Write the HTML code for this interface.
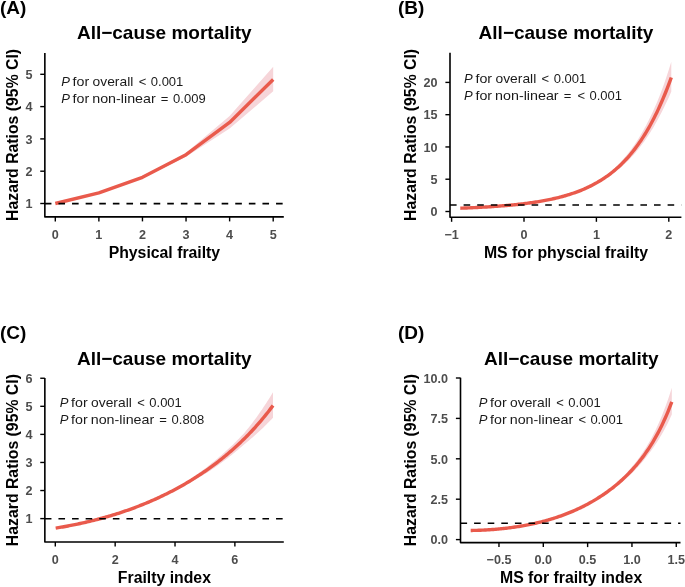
<!DOCTYPE html>
<html><head><meta charset="utf-8"><style>
html,body{margin:0;padding:0;background:#fff;overflow:hidden;}
svg{display:block;will-change:transform;}
text{font-family:"Liberation Sans",sans-serif;}
.tk{font-size:12.6px;font-weight:bold;fill:#4D4D4D;}
.ti{font-size:19px;font-weight:bold;fill:#000;}
.xl{font-size:15.8px;font-weight:bold;fill:#000;}
.pl{font-size:19px;font-weight:bold;fill:#000;}
.an{font-size:13px;fill:#1a1a1a;}
</style></head><body>
<svg width="685" height="587" viewBox="0 0 685 587">
<rect width="685" height="587" fill="#fff"/>
<path d="M55.30,203.50 L98.88,192.41 L142.46,176.45 L186.04,152.67 L229.62,116.02 L273.20,66.79 L273.20,91.20 L229.62,128.49 L186.04,156.73 L142.46,178.21 L98.88,193.27 L55.30,203.50 Z" fill="#F6D5D9"/>
<path d="M55.30,203.50 L98.88,192.84 L142.46,177.34 L186.04,154.73 L229.62,122.43 L273.20,79.47" fill="none" stroke="#E95A4C" stroke-width="3.4" stroke-linejoin="round"/>
<line x1="44.85" y1="203.6" x2="283.8" y2="203.6" stroke="#000" stroke-width="1.6" stroke-dasharray="6.6 7.0"/>
<path d="M44.85,52.9 L44.85,216.9 L283.8,216.9" fill="none" stroke="#000" stroke-width="1.6" stroke-linejoin="round"/>
<line x1="40.25" y1="203.50" x2="44.85" y2="203.50" stroke="#000" stroke-width="1.4"/>
<text x="32.6" y="208.20" class="tk" text-anchor="end">1</text>
<line x1="40.25" y1="171.20" x2="44.85" y2="171.20" stroke="#000" stroke-width="1.4"/>
<text x="32.6" y="175.90" class="tk" text-anchor="end">2</text>
<line x1="40.25" y1="138.90" x2="44.85" y2="138.90" stroke="#000" stroke-width="1.4"/>
<text x="32.6" y="143.60" class="tk" text-anchor="end">3</text>
<line x1="40.25" y1="106.60" x2="44.85" y2="106.60" stroke="#000" stroke-width="1.4"/>
<text x="32.6" y="111.30" class="tk" text-anchor="end">4</text>
<line x1="40.25" y1="74.30" x2="44.85" y2="74.30" stroke="#000" stroke-width="1.4"/>
<text x="32.6" y="79.00" class="tk" text-anchor="end">5</text>
<line x1="55.30" y1="216.9" x2="55.30" y2="221.4" stroke="#000" stroke-width="1.4"/>
<text x="55.30" y="238.9" class="tk" text-anchor="middle">0</text>
<line x1="98.88" y1="216.9" x2="98.88" y2="221.4" stroke="#000" stroke-width="1.4"/>
<text x="98.88" y="238.9" class="tk" text-anchor="middle">1</text>
<line x1="142.46" y1="216.9" x2="142.46" y2="221.4" stroke="#000" stroke-width="1.4"/>
<text x="142.46" y="238.9" class="tk" text-anchor="middle">2</text>
<line x1="186.04" y1="216.9" x2="186.04" y2="221.4" stroke="#000" stroke-width="1.4"/>
<text x="186.04" y="238.9" class="tk" text-anchor="middle">3</text>
<line x1="229.62" y1="216.9" x2="229.62" y2="221.4" stroke="#000" stroke-width="1.4"/>
<text x="229.62" y="238.9" class="tk" text-anchor="middle">4</text>
<line x1="273.20" y1="216.9" x2="273.20" y2="221.4" stroke="#000" stroke-width="1.4"/>
<text x="273.20" y="238.9" class="tk" text-anchor="middle">5</text>
<text x="164.3" y="39.4" class="ti" text-anchor="middle">All−cause mortality</text>
<text x="164.4" y="257.5" class="xl" text-anchor="middle">Physical frailty</text>
<text transform="translate(17.6,134.9) rotate(-90)" class="xl" text-anchor="middle">Hazard Ratios (95% CI)</text>
<text x="0" y="14.0" class="pl">(A)</text>
<text x="61.22" y="85.9" class="an" font-style="italic">P</text>
<text x="72.58" y="85.9" class="an" textLength="16.6" lengthAdjust="spacingAndGlyphs">for</text>
<text x="92.60" y="85.9" class="an" textLength="40.7" lengthAdjust="spacingAndGlyphs">overall</text>
<text x="138.68" y="85.9" class="an">&lt;</text>
<text x="150.80" y="85.9" class="an">0.001</text>
<text x="61.22" y="102.6" class="an" font-style="italic">P</text>
<text x="72.58" y="102.6" class="an" textLength="16.6" lengthAdjust="spacingAndGlyphs">for</text>
<text x="92.22" y="102.6" class="an" textLength="63.5" lengthAdjust="spacingAndGlyphs">non-linear</text>
<text x="160.68" y="102.6" class="an">=</text>
<text x="173.10" y="102.6" class="an">0.009</text>
<path d="M460.30,208.09 L461.63,208.04 L462.95,207.99 L464.28,207.94 L465.61,207.88 L466.94,207.83 L468.26,207.77 L469.59,207.71 L470.92,207.65 L472.24,207.59 L473.57,207.53 L474.90,207.46 L476.22,207.40 L477.55,207.33 L478.88,207.26 L480.21,207.19 L481.53,207.12 L482.86,207.05 L484.19,206.97 L485.51,206.89 L486.84,206.81 L488.17,206.73 L489.49,206.65 L490.82,206.57 L492.15,206.48 L493.48,206.39 L494.80,206.30 L496.13,206.21 L497.46,206.11 L498.78,206.02 L500.11,205.92 L501.44,205.81 L502.77,205.71 L504.09,205.60 L505.42,205.49 L506.75,205.38 L508.07,205.26 L509.40,205.14 L510.73,205.02 L512.05,204.90 L513.38,204.77 L514.71,204.64 L516.04,204.50 L517.36,204.36 L518.69,204.22 L520.02,204.08 L521.34,203.93 L522.67,203.78 L524.00,203.62 L525.33,203.46 L526.65,203.29 L527.98,203.12 L529.31,202.95 L530.63,202.77 L531.96,202.59 L533.29,202.40 L534.61,202.20 L535.94,202.01 L537.27,201.80 L538.60,201.59 L539.92,201.36 L541.25,201.13 L542.58,200.89 L543.90,200.64 L545.23,200.38 L546.56,200.12 L547.88,199.85 L549.21,199.57 L550.54,199.28 L551.87,198.99 L553.19,198.69 L554.52,198.38 L555.85,198.06 L557.17,197.73 L558.50,197.39 L559.83,197.04 L561.16,196.68 L562.48,196.31 L563.81,195.93 L565.14,195.54 L566.46,195.13 L567.79,194.72 L569.12,194.29 L570.44,193.85 L571.77,193.40 L573.10,192.93 L574.43,192.45 L575.75,191.96 L577.08,191.45 L578.41,190.93 L579.73,190.39 L581.06,189.83 L582.39,189.26 L583.72,188.67 L585.04,188.07 L586.37,187.44 L587.70,186.80 L589.02,186.13 L590.35,185.45 L591.68,184.75 L593.00,184.03 L594.33,183.28 L595.66,182.51 L596.99,181.71 L598.31,180.86 L599.64,179.99 L600.97,179.09 L602.29,178.17 L603.62,177.21 L604.95,176.23 L606.27,175.21 L607.60,174.16 L608.93,173.08 L610.26,171.97 L611.58,170.82 L612.91,169.64 L614.24,168.42 L615.56,167.16 L616.89,165.87 L618.22,164.53 L619.55,163.15 L620.87,161.74 L622.20,160.30 L623.53,158.81 L624.85,157.28 L626.18,155.70 L627.51,154.07 L628.83,152.39 L630.16,150.67 L631.49,148.89 L632.82,147.05 L634.14,145.16 L635.47,143.22 L636.80,141.21 L638.12,139.15 L639.45,137.02 L640.78,134.83 L642.11,132.57 L643.43,130.25 L644.76,127.86 L646.09,125.39 L647.41,122.86 L648.74,120.24 L650.07,117.55 L651.39,114.79 L652.72,111.94 L654.05,109.01 L655.38,105.99 L656.70,102.88 L658.03,99.69 L659.36,96.40 L660.68,93.02 L662.01,89.54 L663.34,85.95 L664.66,82.19 L665.99,78.33 L667.32,74.35 L668.65,70.26 L669.97,66.06 L671.30,61.80 L671.30,91.60 L669.97,94.69 L668.65,97.65 L667.32,100.54 L665.99,103.36 L664.66,106.11 L663.34,108.80 L662.01,111.46 L660.68,114.07 L659.36,116.62 L658.03,119.10 L656.70,121.52 L655.38,123.87 L654.05,126.17 L652.72,128.40 L651.39,130.58 L650.07,132.70 L648.74,134.76 L647.41,136.77 L646.09,138.73 L644.76,140.64 L643.43,142.49 L642.11,144.30 L640.78,146.06 L639.45,147.77 L638.12,149.44 L636.80,151.06 L635.47,152.64 L634.14,154.17 L632.82,155.66 L631.49,157.12 L630.16,158.53 L628.83,159.91 L627.51,161.25 L626.18,162.55 L624.85,163.82 L623.53,165.05 L622.20,166.25 L620.87,167.41 L619.55,168.54 L618.22,169.62 L616.89,170.68 L615.56,171.71 L614.24,172.71 L612.91,173.68 L611.58,174.63 L610.26,175.55 L608.93,176.44 L607.60,177.31 L606.27,178.16 L604.95,178.99 L603.62,179.79 L602.29,180.57 L600.97,181.33 L599.64,182.07 L598.31,182.78 L596.99,183.48 L595.66,184.18 L594.33,184.87 L593.00,185.53 L591.68,186.18 L590.35,186.82 L589.02,187.43 L587.70,188.03 L586.37,188.61 L585.04,189.17 L583.72,189.72 L582.39,190.25 L581.06,190.77 L579.73,191.27 L578.41,191.76 L577.08,192.24 L575.75,192.70 L574.43,193.15 L573.10,193.59 L571.77,194.01 L570.44,194.43 L569.12,194.83 L567.79,195.22 L566.46,195.60 L565.14,195.97 L563.81,196.33 L562.48,196.68 L561.16,197.02 L559.83,197.35 L558.50,197.68 L557.17,197.99 L555.85,198.30 L554.52,198.59 L553.19,198.88 L551.87,199.16 L550.54,199.44 L549.21,199.70 L547.88,199.96 L546.56,200.21 L545.23,200.46 L543.90,200.70 L542.58,200.93 L541.25,201.16 L539.92,201.38 L538.60,201.59 L537.27,201.81 L535.94,202.03 L534.61,202.24 L533.29,202.45 L531.96,202.64 L530.63,202.84 L529.31,203.03 L527.98,203.21 L526.65,203.39 L525.33,203.56 L524.00,203.73 L522.67,203.90 L521.34,204.06 L520.02,204.21 L518.69,204.37 L517.36,204.51 L516.04,204.66 L514.71,204.80 L513.38,204.94 L512.05,205.07 L510.73,205.20 L509.40,205.33 L508.07,205.45 L506.75,205.57 L505.42,205.69 L504.09,205.80 L502.77,205.91 L501.44,206.02 L500.11,206.13 L498.78,206.23 L497.46,206.33 L496.13,206.43 L494.80,206.52 L493.48,206.62 L492.15,206.71 L490.82,206.80 L489.49,206.88 L488.17,206.97 L486.84,207.05 L485.51,207.13 L484.19,207.21 L482.86,207.29 L481.53,207.36 L480.21,207.44 L478.88,207.51 L477.55,207.58 L476.22,207.64 L474.90,207.71 L473.57,207.78 L472.24,207.84 L470.92,207.90 L469.59,207.96 L468.26,208.02 L466.94,208.08 L465.61,208.14 L464.28,208.19 L462.95,208.25 L461.63,208.30 L460.30,208.35 Z" fill="#F6D5D9"/>
<path d="M460.30,208.22 L461.63,208.17 L462.95,208.12 L464.28,208.07 L465.61,208.01 L466.94,207.95 L468.26,207.90 L469.59,207.84 L470.92,207.78 L472.24,207.72 L473.57,207.65 L474.90,207.59 L476.22,207.52 L477.55,207.45 L478.88,207.39 L480.21,207.31 L481.53,207.24 L482.86,207.17 L484.19,207.09 L485.51,207.01 L486.84,206.93 L488.17,206.85 L489.49,206.77 L490.82,206.68 L492.15,206.60 L493.48,206.51 L494.80,206.41 L496.13,206.32 L497.46,206.22 L498.78,206.12 L500.11,206.02 L501.44,205.92 L502.77,205.81 L504.09,205.70 L505.42,205.59 L506.75,205.47 L508.07,205.36 L509.40,205.24 L510.73,205.11 L512.05,204.98 L513.38,204.85 L514.71,204.72 L516.04,204.58 L517.36,204.44 L518.69,204.30 L520.02,204.15 L521.34,203.99 L522.67,203.84 L524.00,203.68 L525.33,203.51 L526.65,203.34 L527.98,203.17 L529.31,202.99 L530.63,202.80 L531.96,202.62 L533.29,202.42 L534.61,202.22 L535.94,202.02 L537.27,201.81 L538.60,201.59 L539.92,201.37 L541.25,201.14 L542.58,200.91 L543.90,200.67 L545.23,200.42 L546.56,200.17 L547.88,199.91 L549.21,199.64 L550.54,199.36 L551.87,199.08 L553.19,198.78 L554.52,198.48 L555.85,198.18 L557.17,197.86 L558.50,197.53 L559.83,197.20 L561.16,196.85 L562.48,196.50 L563.81,196.13 L565.14,195.76 L566.46,195.37 L567.79,194.97 L569.12,194.56 L570.44,194.14 L571.77,193.71 L573.10,193.26 L574.43,192.80 L575.75,192.33 L577.08,191.85 L578.41,191.35 L579.73,190.83 L581.06,190.31 L582.39,189.76 L583.72,189.20 L585.04,188.62 L586.37,188.03 L587.70,187.42 L589.02,186.79 L590.35,186.14 L591.68,185.48 L593.00,184.79 L594.33,184.08 L595.66,183.36 L596.99,182.61 L598.31,181.84 L599.64,181.05 L600.97,180.23 L602.29,179.39 L603.62,178.52 L604.95,177.63 L606.27,176.72 L607.60,175.77 L608.93,174.80 L610.26,173.80 L611.58,172.77 L612.91,171.71 L614.24,170.62 L615.56,169.50 L616.89,168.34 L618.22,167.15 L619.55,165.92 L620.87,164.66 L622.20,163.36 L623.53,162.03 L624.85,160.65 L626.18,159.24 L627.51,157.78 L628.83,156.28 L630.16,154.74 L631.49,153.15 L632.82,151.51 L634.14,149.83 L635.47,148.10 L636.80,146.32 L638.12,144.49 L639.45,142.60 L640.78,140.67 L642.11,138.67 L643.43,136.62 L644.76,134.51 L646.09,132.34 L647.41,130.11 L648.74,127.82 L650.07,125.46 L651.39,123.03 L652.72,120.54 L654.05,117.98 L655.38,115.34 L656.70,112.64 L658.03,109.86 L659.36,107.00 L660.68,104.06 L662.01,101.04 L663.34,97.95 L664.66,94.76 L665.99,91.50 L667.32,88.14 L668.65,84.69 L669.97,81.16 L671.30,77.53" fill="none" stroke="#E95A4C" stroke-width="3.4" stroke-linejoin="round"/>
<line x1="450.0" y1="205.0" x2="681.4" y2="205.0" stroke="#000" stroke-width="1.6" stroke-dasharray="6.6 7.0"/>
<path d="M450.0,52.8 L450.0,217.3 L681.4,217.3" fill="none" stroke="#000" stroke-width="1.6" stroke-linejoin="round"/>
<line x1="445.40" y1="211.50" x2="450.0" y2="211.50" stroke="#000" stroke-width="1.4"/>
<text x="437.4" y="216.20" class="tk" text-anchor="end">0</text>
<line x1="445.40" y1="179.22" x2="450.0" y2="179.22" stroke="#000" stroke-width="1.4"/>
<text x="437.4" y="183.92" class="tk" text-anchor="end">5</text>
<line x1="445.40" y1="146.95" x2="450.0" y2="146.95" stroke="#000" stroke-width="1.4"/>
<text x="437.4" y="151.65" class="tk" text-anchor="end">10</text>
<line x1="445.40" y1="114.67" x2="450.0" y2="114.67" stroke="#000" stroke-width="1.4"/>
<text x="437.4" y="119.38" class="tk" text-anchor="end">15</text>
<line x1="445.40" y1="82.40" x2="450.0" y2="82.40" stroke="#000" stroke-width="1.4"/>
<text x="437.4" y="87.10" class="tk" text-anchor="end">20</text>
<line x1="451.60" y1="217.3" x2="451.60" y2="221.8" stroke="#000" stroke-width="1.4"/>
<text x="451.60" y="238.9" class="tk" text-anchor="middle">−1</text>
<line x1="524.00" y1="217.3" x2="524.00" y2="221.8" stroke="#000" stroke-width="1.4"/>
<text x="524.00" y="238.9" class="tk" text-anchor="middle">0</text>
<line x1="596.40" y1="217.3" x2="596.40" y2="221.8" stroke="#000" stroke-width="1.4"/>
<text x="596.40" y="238.9" class="tk" text-anchor="middle">1</text>
<line x1="668.80" y1="217.3" x2="668.80" y2="221.8" stroke="#000" stroke-width="1.4"/>
<text x="668.80" y="238.9" class="tk" text-anchor="middle">2</text>
<text x="566" y="39.4" class="ti" text-anchor="middle">All−cause mortality</text>
<text x="566" y="257.5" class="xl" text-anchor="middle">MS for physcial frailty</text>
<text transform="translate(416.4,134.9) rotate(-90)" class="xl" text-anchor="middle">Hazard Ratios (95% CI)</text>
<text x="398" y="13.9" class="pl">(B)</text>
<text x="464.12" y="83.1" class="an" font-style="italic">P</text>
<text x="475.48" y="83.1" class="an" textLength="16.6" lengthAdjust="spacingAndGlyphs">for</text>
<text x="495.50" y="83.1" class="an" textLength="40.7" lengthAdjust="spacingAndGlyphs">overall</text>
<text x="541.58" y="83.1" class="an">&lt;</text>
<text x="553.70" y="83.1" class="an">0.001</text>
<text x="464.12" y="99.8" class="an" font-style="italic">P</text>
<text x="475.48" y="99.8" class="an" textLength="16.6" lengthAdjust="spacingAndGlyphs">for</text>
<text x="495.12" y="99.8" class="an" textLength="63.5" lengthAdjust="spacingAndGlyphs">non-linear</text>
<text x="563.68" y="99.8" class="an">=</text>
<text x="577.48" y="99.8" class="an">&lt;</text>
<text x="589.50" y="99.8" class="an">0.001</text>
<path d="M55.70,527.37 L57.07,527.16 L58.43,526.95 L59.80,526.73 L61.17,526.51 L62.53,526.29 L63.90,526.06 L65.27,525.83 L66.63,525.60 L68.00,525.36 L69.37,525.12 L70.73,524.87 L72.10,524.63 L73.47,524.37 L74.83,524.12 L76.20,523.86 L77.57,523.59 L78.93,523.33 L80.30,523.06 L81.67,522.78 L83.03,522.50 L84.40,522.22 L85.77,521.93 L87.13,521.64 L88.50,521.35 L89.87,521.05 L91.23,520.75 L92.60,520.44 L93.97,520.13 L95.33,519.82 L96.70,519.50 L98.07,519.17 L99.43,518.85 L100.80,518.50 L102.17,518.12 L103.53,517.74 L104.90,517.36 L106.27,516.97 L107.63,516.57 L109.00,516.17 L110.37,515.76 L111.73,515.35 L113.10,514.93 L114.47,514.51 L115.83,514.08 L117.20,513.65 L118.57,513.20 L119.93,512.76 L121.30,512.30 L122.67,511.84 L124.03,511.38 L125.40,510.91 L126.77,510.43 L128.13,509.95 L129.50,509.46 L130.87,508.96 L132.23,508.46 L133.60,507.95 L134.97,507.43 L136.33,506.91 L137.70,506.38 L139.07,505.84 L140.43,505.30 L141.80,504.75 L143.17,504.20 L144.53,503.63 L145.90,503.06 L147.27,502.49 L148.63,501.90 L150.00,501.31 L151.37,500.71 L152.73,500.10 L154.10,499.49 L155.47,498.87 L156.83,498.24 L158.20,497.60 L159.57,496.96 L160.93,496.28 L162.30,495.59 L163.67,494.88 L165.03,494.16 L166.40,493.44 L167.77,492.70 L169.13,491.96 L170.50,491.21 L171.87,490.44 L173.23,489.67 L174.60,488.89 L175.97,488.10 L177.33,487.30 L178.70,486.48 L180.07,485.66 L181.43,484.83 L182.80,483.98 L184.17,483.13 L185.53,482.25 L186.90,481.37 L188.27,480.47 L189.63,479.56 L191.00,478.64 L192.37,477.71 L193.73,476.76 L195.10,475.81 L196.47,474.84 L197.83,473.86 L199.20,472.86 L200.57,471.86 L201.93,470.84 L203.30,469.81 L204.67,468.76 L206.03,467.70 L207.40,466.63 L208.77,465.54 L210.13,464.44 L211.50,463.34 L212.87,462.25 L214.23,461.15 L215.60,460.04 L216.97,458.91 L218.33,457.77 L219.70,456.61 L221.07,455.44 L222.43,454.25 L223.80,453.04 L225.17,451.83 L226.53,450.59 L227.90,449.34 L229.27,448.07 L230.63,446.79 L232.00,445.49 L233.37,444.17 L234.73,442.83 L236.10,441.47 L237.47,440.10 L238.83,438.71 L240.20,437.30 L241.57,435.86 L242.93,434.41 L244.30,432.89 L245.67,431.25 L247.03,429.58 L248.40,427.89 L249.77,426.17 L251.13,424.42 L252.50,422.65 L253.87,420.84 L255.23,419.01 L256.60,417.15 L257.97,415.25 L259.33,413.33 L260.70,411.37 L262.07,409.39 L263.43,407.36 L264.80,405.31 L266.17,403.22 L267.53,401.09 L268.90,398.93 L270.27,396.73 L271.63,394.49 L273.00,392.23 L273.00,417.67 L271.63,419.14 L270.27,420.57 L268.90,421.97 L267.53,423.36 L266.17,424.72 L264.80,426.07 L263.43,427.40 L262.07,428.70 L260.70,430.00 L259.33,431.27 L257.97,432.53 L256.60,433.77 L255.23,434.99 L253.87,436.20 L252.50,437.40 L251.13,438.57 L249.77,439.74 L248.40,440.89 L247.03,442.02 L245.67,443.14 L244.30,444.25 L242.93,445.43 L241.57,446.64 L240.20,447.84 L238.83,449.01 L237.47,450.18 L236.10,451.33 L234.73,452.46 L233.37,453.58 L232.00,454.69 L230.63,455.78 L229.27,456.86 L227.90,457.93 L226.53,458.98 L225.17,460.02 L223.80,461.05 L222.43,462.07 L221.07,463.07 L219.70,464.06 L218.33,465.04 L216.97,466.01 L215.60,466.97 L214.23,467.92 L212.87,468.85 L211.50,469.78 L210.13,470.67 L208.77,471.54 L207.40,472.39 L206.03,473.24 L204.67,474.08 L203.30,474.91 L201.93,475.73 L200.57,476.54 L199.20,477.34 L197.83,478.14 L196.47,478.92 L195.10,479.70 L193.73,480.47 L192.37,481.23 L191.00,481.98 L189.63,482.73 L188.27,483.47 L186.90,484.20 L185.53,484.92 L184.17,485.64 L182.80,486.35 L181.43,487.06 L180.07,487.76 L178.70,488.46 L177.33,489.15 L175.97,489.82 L174.60,490.50 L173.23,491.16 L171.87,491.82 L170.50,492.47 L169.13,493.12 L167.77,493.75 L166.40,494.38 L165.03,495.01 L163.67,495.63 L162.30,496.24 L160.93,496.84 L159.57,497.45 L158.20,498.08 L156.83,498.70 L155.47,499.31 L154.10,499.91 L152.73,500.51 L151.37,501.10 L150.00,501.68 L148.63,502.26 L147.27,502.83 L145.90,503.39 L144.53,503.95 L143.17,504.50 L141.80,505.04 L140.43,505.58 L139.07,506.11 L137.70,506.63 L136.33,507.15 L134.97,507.66 L133.60,508.16 L132.23,508.66 L130.87,509.15 L129.50,509.64 L128.13,510.12 L126.77,510.59 L125.40,511.06 L124.03,511.52 L122.67,511.97 L121.30,512.42 L119.93,512.87 L118.57,513.31 L117.20,513.74 L115.83,514.17 L114.47,514.59 L113.10,515.00 L111.73,515.41 L110.37,515.82 L109.00,516.22 L107.63,516.61 L106.27,517.00 L104.90,517.38 L103.53,517.76 L102.17,518.13 L100.80,518.50 L99.43,518.88 L98.07,519.28 L96.70,519.67 L95.33,520.05 L93.97,520.42 L92.60,520.79 L91.23,521.16 L89.87,521.52 L88.50,521.87 L87.13,522.22 L85.77,522.56 L84.40,522.90 L83.03,523.23 L81.67,523.56 L80.30,523.88 L78.93,524.20 L77.57,524.51 L76.20,524.81 L74.83,525.11 L73.47,525.41 L72.10,525.70 L70.73,525.99 L69.37,526.27 L68.00,526.55 L66.63,526.82 L65.27,527.09 L63.90,527.35 L62.53,527.61 L61.17,527.87 L59.80,528.12 L58.43,528.36 L57.07,528.60 L55.70,528.84 Z" fill="#F6D5D9"/>
<path d="M55.70,528.12 L57.07,527.90 L58.43,527.67 L59.80,527.44 L61.17,527.20 L62.53,526.96 L63.90,526.72 L65.27,526.47 L66.63,526.22 L68.00,525.96 L69.37,525.70 L70.73,525.44 L72.10,525.17 L73.47,524.90 L74.83,524.62 L76.20,524.34 L77.57,524.06 L78.93,523.77 L80.30,523.47 L81.67,523.17 L83.03,522.87 L84.40,522.56 L85.77,522.25 L87.13,521.93 L88.50,521.61 L89.87,521.29 L91.23,520.95 L92.60,520.62 L93.97,520.28 L95.33,519.93 L96.70,519.58 L98.07,519.23 L99.43,518.87 L100.80,518.50 L102.17,518.13 L103.53,517.75 L104.90,517.37 L106.27,516.98 L107.63,516.59 L109.00,516.19 L110.37,515.79 L111.73,515.38 L113.10,514.97 L114.47,514.55 L115.83,514.12 L117.20,513.69 L118.57,513.26 L119.93,512.81 L121.30,512.36 L122.67,511.91 L124.03,511.45 L125.40,510.98 L126.77,510.51 L128.13,510.03 L129.50,509.55 L130.87,509.06 L132.23,508.56 L133.60,508.06 L134.97,507.55 L136.33,507.03 L137.70,506.51 L139.07,505.98 L140.43,505.44 L141.80,504.90 L143.17,504.35 L144.53,503.79 L145.90,503.23 L147.27,502.66 L148.63,502.08 L150.00,501.50 L151.37,500.91 L152.73,500.31 L154.10,499.70 L155.47,499.09 L156.83,498.47 L158.20,497.84 L159.57,497.21 L160.93,496.56 L162.30,495.91 L163.67,495.25 L165.03,494.59 L166.40,493.91 L167.77,493.23 L169.13,492.54 L170.50,491.84 L171.87,491.14 L173.23,490.42 L174.60,489.70 L175.97,488.97 L177.33,488.23 L178.70,487.48 L180.07,486.72 L181.43,485.96 L182.80,485.18 L184.17,484.40 L185.53,483.60 L186.90,482.80 L188.27,481.99 L189.63,481.17 L191.00,480.33 L192.37,479.49 L193.73,478.64 L195.10,477.78 L196.47,476.91 L197.83,476.03 L199.20,475.14 L200.57,474.24 L201.93,473.32 L203.30,472.40 L204.67,471.47 L206.03,470.52 L207.40,469.56 L208.77,468.59 L210.13,467.62 L211.50,466.62 L212.87,465.62 L214.23,464.60 L215.60,463.58 L216.97,462.54 L218.33,461.48 L219.70,460.42 L221.07,459.34 L222.43,458.24 L223.80,457.14 L225.17,456.02 L226.53,454.88 L227.90,453.73 L229.27,452.57 L230.63,451.39 L232.00,450.20 L233.37,448.99 L234.73,447.76 L236.10,446.52 L237.47,445.26 L238.83,443.99 L240.20,442.70 L241.57,441.39 L242.93,440.07 L244.30,438.72 L245.67,437.36 L247.03,435.98 L248.40,434.58 L249.77,433.16 L251.13,431.72 L252.50,430.25 L253.87,428.77 L255.23,427.27 L256.60,425.74 L257.97,424.20 L259.33,422.62 L260.70,421.03 L262.07,419.41 L263.43,417.77 L264.80,416.10 L266.17,414.41 L267.53,412.69 L268.90,410.94 L270.27,409.16 L271.63,407.36 L273.00,405.53" fill="none" stroke="#E95A4C" stroke-width="3.4" stroke-linejoin="round"/>
<line x1="44.85" y1="518.8" x2="283.8" y2="518.8" stroke="#000" stroke-width="1.6" stroke-dasharray="6.6 7.0"/>
<path d="M44.85,378.0 L44.85,542.0 L283.8,542.0" fill="none" stroke="#000" stroke-width="1.6" stroke-linejoin="round"/>
<line x1="40.25" y1="518.60" x2="44.85" y2="518.60" stroke="#000" stroke-width="1.4"/>
<text x="32.6" y="523.30" class="tk" text-anchor="end">1</text>
<line x1="40.25" y1="490.53" x2="44.85" y2="490.53" stroke="#000" stroke-width="1.4"/>
<text x="32.6" y="495.23" class="tk" text-anchor="end">2</text>
<line x1="40.25" y1="462.46" x2="44.85" y2="462.46" stroke="#000" stroke-width="1.4"/>
<text x="32.6" y="467.16" class="tk" text-anchor="end">3</text>
<line x1="40.25" y1="434.39" x2="44.85" y2="434.39" stroke="#000" stroke-width="1.4"/>
<text x="32.6" y="439.09" class="tk" text-anchor="end">4</text>
<line x1="40.25" y1="406.32" x2="44.85" y2="406.32" stroke="#000" stroke-width="1.4"/>
<text x="32.6" y="411.02" class="tk" text-anchor="end">5</text>
<line x1="40.25" y1="378.25" x2="44.85" y2="378.25" stroke="#000" stroke-width="1.4"/>
<text x="32.6" y="382.95" class="tk" text-anchor="end">6</text>
<line x1="55.30" y1="542.0" x2="55.30" y2="546.5" stroke="#000" stroke-width="1.4"/>
<text x="55.30" y="564.1" class="tk" text-anchor="middle">0</text>
<line x1="115.16" y1="542.0" x2="115.16" y2="546.5" stroke="#000" stroke-width="1.4"/>
<text x="115.16" y="564.1" class="tk" text-anchor="middle">2</text>
<line x1="175.02" y1="542.0" x2="175.02" y2="546.5" stroke="#000" stroke-width="1.4"/>
<text x="175.02" y="564.1" class="tk" text-anchor="middle">4</text>
<line x1="234.88" y1="542.0" x2="234.88" y2="546.5" stroke="#000" stroke-width="1.4"/>
<text x="234.88" y="564.1" class="tk" text-anchor="middle">6</text>
<text x="164.3" y="364.5" class="ti" text-anchor="middle">All−cause mortality</text>
<text x="164.4" y="582.7" class="xl" text-anchor="middle">Frailty index</text>
<text transform="translate(17.6,460.1) rotate(-90)" class="xl" text-anchor="middle">Hazard Ratios (95% CI)</text>
<text x="0" y="339.2" class="pl">(C)</text>
<text x="59.72" y="406.6" class="an" font-style="italic">P</text>
<text x="71.08" y="406.6" class="an" textLength="16.6" lengthAdjust="spacingAndGlyphs">for</text>
<text x="91.10" y="406.6" class="an" textLength="40.7" lengthAdjust="spacingAndGlyphs">overall</text>
<text x="137.18" y="406.6" class="an">&lt;</text>
<text x="149.30" y="406.6" class="an">0.001</text>
<text x="59.72" y="423.7" class="an" font-style="italic">P</text>
<text x="71.08" y="423.7" class="an" textLength="16.6" lengthAdjust="spacingAndGlyphs">for</text>
<text x="90.72" y="423.7" class="an" textLength="63.5" lengthAdjust="spacingAndGlyphs">non-linear</text>
<text x="159.18" y="423.7" class="an">=</text>
<text x="171.60" y="423.7" class="an">0.808</text>
<path d="M470.70,530.08 L471.96,530.07 L473.23,530.06 L474.49,530.04 L475.76,530.02 L477.02,529.99 L478.29,529.96 L479.55,529.92 L480.82,529.88 L482.08,529.83 L483.35,529.78 L484.61,529.72 L485.88,529.66 L487.14,529.59 L488.41,529.52 L489.67,529.44 L490.94,529.36 L492.20,529.27 L493.47,529.18 L494.73,529.08 L496.00,528.98 L497.26,528.87 L498.53,528.76 L499.79,528.65 L501.05,528.53 L502.32,528.40 L503.58,528.27 L504.85,528.13 L506.11,527.99 L507.38,527.85 L508.64,527.69 L509.91,527.54 L511.17,527.38 L512.44,527.21 L513.70,527.04 L514.97,526.86 L516.23,526.68 L517.50,526.49 L518.76,526.29 L520.03,526.09 L521.29,525.89 L522.56,525.68 L523.82,525.46 L525.09,525.24 L526.35,525.01 L527.62,524.77 L528.88,524.53 L530.14,524.28 L531.41,524.03 L532.67,523.77 L533.94,523.50 L535.20,523.23 L536.47,522.95 L537.73,522.66 L539.00,522.37 L540.26,522.07 L541.53,521.76 L542.79,521.45 L544.06,521.11 L545.32,520.76 L546.59,520.40 L547.85,520.03 L549.12,519.66 L550.38,519.28 L551.65,518.88 L552.91,518.48 L554.18,518.07 L555.44,517.65 L556.71,517.22 L557.97,516.79 L559.23,516.34 L560.50,515.88 L561.76,515.42 L563.03,514.94 L564.29,514.45 L565.56,513.96 L566.82,513.45 L568.09,512.94 L569.35,512.41 L570.62,511.87 L571.88,511.32 L573.15,510.76 L574.41,510.19 L575.68,509.61 L576.94,509.01 L578.21,508.41 L579.47,507.79 L580.74,507.16 L582.00,506.52 L583.27,505.86 L584.53,505.19 L585.79,504.51 L587.06,503.82 L588.32,503.11 L589.59,502.39 L590.85,501.65 L592.12,500.90 L593.38,500.14 L594.65,499.36 L595.91,498.56 L597.18,497.74 L598.44,496.90 L599.71,496.04 L600.97,495.16 L602.24,494.27 L603.50,493.35 L604.77,492.42 L606.03,491.47 L607.30,490.50 L608.56,489.51 L609.83,488.50 L611.09,487.47 L612.36,486.41 L613.62,485.34 L614.88,484.24 L616.15,483.12 L617.41,481.98 L618.68,480.81 L619.94,479.61 L621.21,478.39 L622.47,477.14 L623.74,475.86 L625.00,474.56 L626.27,473.22 L627.53,471.86 L628.80,470.46 L630.06,469.03 L631.33,467.57 L632.59,466.06 L633.86,464.51 L635.12,462.93 L636.39,461.30 L637.65,459.63 L638.92,457.92 L640.18,456.16 L641.45,454.36 L642.71,452.51 L643.97,450.61 L645.24,448.66 L646.50,446.65 L647.77,444.59 L649.03,442.47 L650.30,440.24 L651.56,437.88 L652.83,435.46 L654.09,432.96 L655.36,430.38 L656.62,427.72 L657.89,424.98 L659.15,422.14 L660.42,419.22 L661.68,416.19 L662.95,413.06 L664.21,409.83 L665.48,406.48 L666.74,403.02 L668.01,399.43 L669.27,395.71 L670.54,391.85 L671.80,387.85 L671.80,414.59 L670.54,417.37 L669.27,420.06 L668.01,422.66 L666.74,425.17 L665.48,427.60 L664.21,429.95 L662.95,432.24 L661.68,434.45 L660.42,436.59 L659.15,438.67 L657.89,440.69 L656.62,442.65 L655.36,444.55 L654.09,446.40 L652.83,448.20 L651.56,449.95 L650.30,451.65 L649.03,453.36 L647.77,455.06 L646.50,456.72 L645.24,458.33 L643.97,459.91 L642.71,461.44 L641.45,462.94 L640.18,464.40 L638.92,465.82 L637.65,467.21 L636.39,468.57 L635.12,469.90 L633.86,471.20 L632.59,472.46 L631.33,473.71 L630.06,474.93 L628.80,476.13 L627.53,477.30 L626.27,478.45 L625.00,479.57 L623.74,480.67 L622.47,481.75 L621.21,482.80 L619.94,483.84 L618.68,484.85 L617.41,485.84 L616.15,486.82 L614.88,487.77 L613.62,488.71 L612.36,489.63 L611.09,490.53 L609.83,491.42 L608.56,492.29 L607.30,493.14 L606.03,493.98 L604.77,494.80 L603.50,495.60 L602.24,496.40 L600.97,497.17 L599.71,497.94 L598.44,498.69 L597.18,499.42 L595.91,500.16 L594.65,500.88 L593.38,501.60 L592.12,502.30 L590.85,502.99 L589.59,503.66 L588.32,504.32 L587.06,504.98 L585.79,505.62 L584.53,506.24 L583.27,506.86 L582.00,507.47 L580.74,508.06 L579.47,508.64 L578.21,509.22 L576.94,509.78 L575.68,510.33 L574.41,510.87 L573.15,511.40 L571.88,511.92 L570.62,512.43 L569.35,512.94 L568.09,513.43 L566.82,513.91 L565.56,514.38 L564.29,514.85 L563.03,515.30 L561.76,515.75 L560.50,516.19 L559.23,516.62 L557.97,517.04 L556.71,517.45 L555.44,517.85 L554.18,518.25 L552.91,518.63 L551.65,519.01 L550.38,519.38 L549.12,519.75 L547.85,520.10 L546.59,520.45 L545.32,520.79 L544.06,521.12 L542.79,521.46 L541.53,521.79 L540.26,522.12 L539.00,522.45 L537.73,522.76 L536.47,523.07 L535.20,523.37 L533.94,523.66 L532.67,523.95 L531.41,524.23 L530.14,524.50 L528.88,524.76 L527.62,525.02 L526.35,525.27 L525.09,525.52 L523.82,525.75 L522.56,525.99 L521.29,526.21 L520.03,526.43 L518.76,526.64 L517.50,526.85 L516.23,527.05 L514.97,527.25 L513.70,527.43 L512.44,527.62 L511.17,527.80 L509.91,527.97 L508.64,528.13 L507.38,528.30 L506.11,528.45 L504.85,528.60 L503.58,528.75 L502.32,528.89 L501.05,529.02 L499.79,529.15 L498.53,529.28 L497.26,529.40 L496.00,529.51 L494.73,529.62 L493.47,529.73 L492.20,529.83 L490.94,529.92 L489.67,530.01 L488.41,530.10 L487.14,530.18 L485.88,530.26 L484.61,530.33 L483.35,530.40 L482.08,530.46 L480.82,530.52 L479.55,530.57 L478.29,530.62 L477.02,530.66 L475.76,530.70 L474.49,530.73 L473.23,530.76 L471.96,530.78 L470.70,530.80 Z" fill="#F6D5D9"/>
<path d="M470.70,530.44 L471.96,530.43 L473.23,530.41 L474.49,530.39 L475.76,530.36 L477.02,530.33 L478.29,530.29 L479.55,530.25 L480.82,530.20 L482.08,530.15 L483.35,530.09 L484.61,530.03 L485.88,529.96 L487.14,529.89 L488.41,529.81 L489.67,529.73 L490.94,529.64 L492.20,529.55 L493.47,529.46 L494.73,529.36 L496.00,529.25 L497.26,529.14 L498.53,529.02 L499.79,528.90 L501.05,528.78 L502.32,528.65 L503.58,528.51 L504.85,528.37 L506.11,528.22 L507.38,528.07 L508.64,527.92 L509.91,527.75 L511.17,527.59 L512.44,527.42 L513.70,527.24 L514.97,527.05 L516.23,526.86 L517.50,526.67 L518.76,526.47 L520.03,526.26 L521.29,526.05 L522.56,525.83 L523.82,525.61 L525.09,525.38 L526.35,525.14 L527.62,524.90 L528.88,524.65 L530.14,524.39 L531.41,524.13 L532.67,523.86 L533.94,523.58 L535.20,523.30 L536.47,523.01 L537.73,522.71 L539.00,522.41 L540.26,522.10 L541.53,521.78 L542.79,521.45 L544.06,521.12 L545.32,520.77 L546.59,520.43 L547.85,520.07 L549.12,519.70 L550.38,519.33 L551.65,518.95 L552.91,518.56 L554.18,518.16 L555.44,517.75 L556.71,517.34 L557.97,516.91 L559.23,516.48 L560.50,516.04 L561.76,515.58 L563.03,515.12 L564.29,514.65 L565.56,514.17 L566.82,513.68 L568.09,513.18 L569.35,512.67 L570.62,512.15 L571.88,511.62 L573.15,511.08 L574.41,510.53 L575.68,509.97 L576.94,509.40 L578.21,508.81 L579.47,508.22 L580.74,507.61 L582.00,506.99 L583.27,506.36 L584.53,505.72 L585.79,505.07 L587.06,504.40 L588.32,503.72 L589.59,503.03 L590.85,502.32 L592.12,501.61 L593.38,500.87 L594.65,500.13 L595.91,499.37 L597.18,498.59 L598.44,497.80 L599.71,497.00 L600.97,496.18 L602.24,495.34 L603.50,494.49 L604.77,493.62 L606.03,492.74 L607.30,491.84 L608.56,490.92 L609.83,489.98 L611.09,489.02 L612.36,488.05 L613.62,487.05 L614.88,486.04 L616.15,485.00 L617.41,483.94 L618.68,482.86 L619.94,481.76 L621.21,480.64 L622.47,479.49 L623.74,478.32 L625.00,477.12 L626.27,475.89 L627.53,474.64 L628.80,473.36 L630.06,472.05 L631.33,470.71 L632.59,469.34 L633.86,467.93 L635.12,466.50 L636.39,465.02 L637.65,463.52 L638.92,461.97 L640.18,460.39 L641.45,458.76 L642.71,457.10 L643.97,455.39 L645.24,453.63 L646.50,451.83 L647.77,449.98 L649.03,448.08 L650.30,446.12 L651.56,444.11 L652.83,442.04 L654.09,439.91 L655.36,437.71 L656.62,435.45 L657.89,433.12 L659.15,430.72 L660.42,428.24 L661.68,425.68 L662.95,423.04 L664.21,420.32 L665.48,417.50 L666.74,414.58 L668.01,411.57 L669.27,408.45 L670.54,405.22 L671.80,401.87" fill="none" stroke="#E95A4C" stroke-width="3.4" stroke-linejoin="round"/>
<line x1="460.5" y1="523.2" x2="680.5" y2="523.2" stroke="#000" stroke-width="1.6" stroke-dasharray="6.6 7.0"/>
<path d="M460.5,377.7 L460.5,542.6 L680.5,542.6" fill="none" stroke="#000" stroke-width="1.6" stroke-linejoin="round"/>
<line x1="455.90" y1="539.60" x2="460.5" y2="539.60" stroke="#000" stroke-width="1.4"/>
<text x="448.0" y="544.30" class="tk" text-anchor="end">0.0</text>
<line x1="455.90" y1="499.20" x2="460.5" y2="499.20" stroke="#000" stroke-width="1.4"/>
<text x="448.0" y="503.90" class="tk" text-anchor="end">2.5</text>
<line x1="455.90" y1="458.80" x2="460.5" y2="458.80" stroke="#000" stroke-width="1.4"/>
<text x="448.0" y="463.50" class="tk" text-anchor="end">5.0</text>
<line x1="455.90" y1="418.40" x2="460.5" y2="418.40" stroke="#000" stroke-width="1.4"/>
<text x="448.0" y="423.10" class="tk" text-anchor="end">7.5</text>
<line x1="455.90" y1="378.00" x2="460.5" y2="378.00" stroke="#000" stroke-width="1.4"/>
<text x="448.0" y="382.70" class="tk" text-anchor="end">10.0</text>
<line x1="498.97" y1="542.6" x2="498.97" y2="547.1" stroke="#000" stroke-width="1.4"/>
<text x="498.97" y="564.1" class="tk" text-anchor="middle">−0.5</text>
<line x1="543.30" y1="542.6" x2="543.30" y2="547.1" stroke="#000" stroke-width="1.4"/>
<text x="543.30" y="564.1" class="tk" text-anchor="middle">0.0</text>
<line x1="587.62" y1="542.6" x2="587.62" y2="547.1" stroke="#000" stroke-width="1.4"/>
<text x="587.62" y="564.1" class="tk" text-anchor="middle">0.5</text>
<line x1="631.95" y1="542.6" x2="631.95" y2="547.1" stroke="#000" stroke-width="1.4"/>
<text x="631.95" y="564.1" class="tk" text-anchor="middle">1.0</text>
<line x1="676.27" y1="542.6" x2="676.27" y2="547.1" stroke="#000" stroke-width="1.4"/>
<text x="676.27" y="564.1" class="tk" text-anchor="middle">1.5</text>
<text x="571.3" y="365.0" class="ti" text-anchor="middle">All−cause mortality</text>
<text x="571.1" y="582.7" class="xl" text-anchor="middle">MS for frailty index</text>
<text transform="translate(416.4,460.1) rotate(-90)" class="xl" text-anchor="middle">Hazard Ratios (95% CI)</text>
<text x="398" y="339.2" class="pl">(D)</text>
<text x="478.72" y="406.6" class="an" font-style="italic">P</text>
<text x="490.08" y="406.6" class="an" textLength="16.6" lengthAdjust="spacingAndGlyphs">for</text>
<text x="510.10" y="406.6" class="an" textLength="40.7" lengthAdjust="spacingAndGlyphs">overall</text>
<text x="556.18" y="406.6" class="an">&lt;</text>
<text x="568.30" y="406.6" class="an">0.001</text>
<text x="478.72" y="423.5" class="an" font-style="italic">P</text>
<text x="490.08" y="423.5" class="an" textLength="16.6" lengthAdjust="spacingAndGlyphs">for</text>
<text x="509.72" y="423.5" class="an" textLength="63.5" lengthAdjust="spacingAndGlyphs">non-linear</text>
<text x="578.58" y="423.5" class="an">&lt;</text>
<text x="590.40" y="423.5" class="an">0.001</text>
</svg>
</body></html>
